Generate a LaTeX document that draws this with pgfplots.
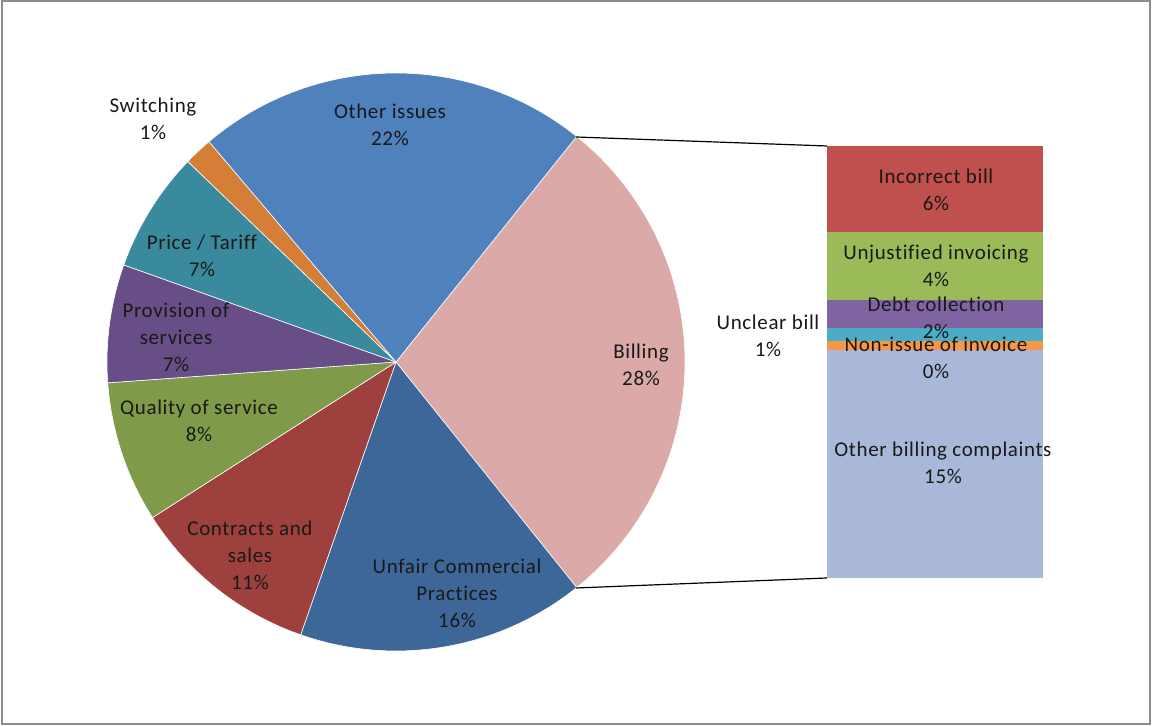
\documentclass[border=0pt]{standalone}
\usepackage{pgfplots}
\pgfplotsset{compat=1.18}
\usepackage{fontspec}
\setmainfont{Carlito}[LetterSpace=3, Ligatures=NoCommon]
\definecolor{cBilling}{HTML}{DAA9A8}
\definecolor{cUnfair}{HTML}{3E6799}
\definecolor{cContracts}{HTML}{9E413E}
\definecolor{cQuality}{HTML}{7F9A48}
\definecolor{cProvision}{HTML}{684E87}
\definecolor{cPrice}{HTML}{3A8A9E}
\definecolor{cSwitching}{HTML}{D47E37}
\definecolor{cOther}{HTML}{4F81BD}
\definecolor{bIncorrect}{HTML}{C0504D}
\definecolor{bUnjust}{HTML}{9BBB59}
\definecolor{bDebt}{HTML}{8064A2}
\definecolor{bUnclear}{HTML}{4BACC6}
\definecolor{bNonissue}{HTML}{F79646}
\definecolor{bOther}{HTML}{A9B8D8}
\begin{document}
\begin{tikzpicture}[lbl/.style={align=center,font=\fontsize{10.5}{13.5}\selectfont,text=black!90}]
% bar of the Billing slice (drawn first so that the labels go on top)
\begin{axis}[
    at={(413.5pt,74pt)}, anchor=south west,
    scale only axis, width=108pt, height=216.15pt,
    xmin=0, xmax=1, ymin=0, ymax=28.5,
    axis lines=none, clip=false,
    ybar stacked, bar width=108pt, bar shift=0pt,
  ]
  \addplot[fill=bOther, draw=none] coordinates {(0.5,15.05)};
  \addplot[fill=bNonissue, draw=none] coordinates {(0.5,0.55)};
  \addplot[fill=bUnclear, draw=none] coordinates {(0.5,0.9)};
  \addplot[fill=bDebt, draw=none] coordinates {(0.5,1.85)};
  \addplot[fill=bUnjust, draw=none] coordinates {(0.5,4.48)};
  \addplot[fill=bIncorrect, draw=none] coordinates {(0.5,5.67)};
\end{axis}
% pie part, one axis unit = one pixel of the reference
\begin{axis}[
    at={(0pt,0pt)}, anchor=south west,
    scale only axis, width=576pt, height=363pt,
    xmin=0, xmax=1152, ymin=0, ymax=726,
    axis lines=none, clip=false,
  ]
  \addplot[draw=none] coordinates {(0,0) (1152,726)};
  \draw[black!45, line width=0.8pt] (axis cs:2,2) rectangle (axis cs:1150,725);
  % slices, clockwise from the top of Billing
  \gdef\ang{51.3}
  \foreach \v/\c in {28.5/cBilling, 16.1/cUnfair, 10.6/cContracts, 7.9/cQuality,
                     6.6/cProvision, 6.75/cPrice, 1.6/cSwitching, 21.95/cOther} {
    \pgfmathsetmacro\endang{\ang-3.6*\v}
    \edef\temp{\noexpand\fill[\c, draw=white, line width=0.3pt]
      (axis cs:396,364) -- ++(\ang:144.5pt)
      arc[start angle=\ang, end angle=\endang, radius=144.5pt] -- cycle;}
    \temp
    \xdef\ang{\endang}
  }
  % connectors to the bar
  \draw[black, line width=0.6pt] (axis cs:576,589) -- (axis cs:827,580);
  \draw[black, line width=0.6pt] (axis cs:576,138) -- (axis cs:827,148);
  % pie labels
  \node[lbl] at (axis cs:390,601) {Other issues\\22\%};
  \node[lbl] at (axis cs:641,361) {Billing\\28\%};
  \node[lbl] at (axis cs:457,133) {Unfair Commercial\\Practices\\16\%};
  \node[lbl] at (axis cs:250,171) {Contracts and\\sales\\11\%};
  \node[lbl] at (axis cs:199,305) {Quality of service\\8\%};
  \node[lbl] at (axis cs:176,389) {Provision of\\services\\7\%};
  \node[lbl] at (axis cs:202,470) {Price / Tariff\\7\%};
  \node[lbl] at (axis cs:153,607) {Switching\\1\%};
  \node[lbl] at (axis cs:768,390) {Unclear bill\\1\%};
  % bar labels
  \node[lbl] at (axis cs:936,536) {Incorrect bill\\6\%};
  \node[lbl] at (axis cs:936,460) {Unjustified invoicing\\4\%};
  \node[lbl] at (axis cs:936,408) {Debt collection\\2\%};
  \node[lbl] at (axis cs:936,368) {Non-issue of invoice\\0\%};
  \node[lbl] at (axis cs:943,263) {Other billing complaints\\15\%};
\end{axis}
\end{tikzpicture}
\end{document}
